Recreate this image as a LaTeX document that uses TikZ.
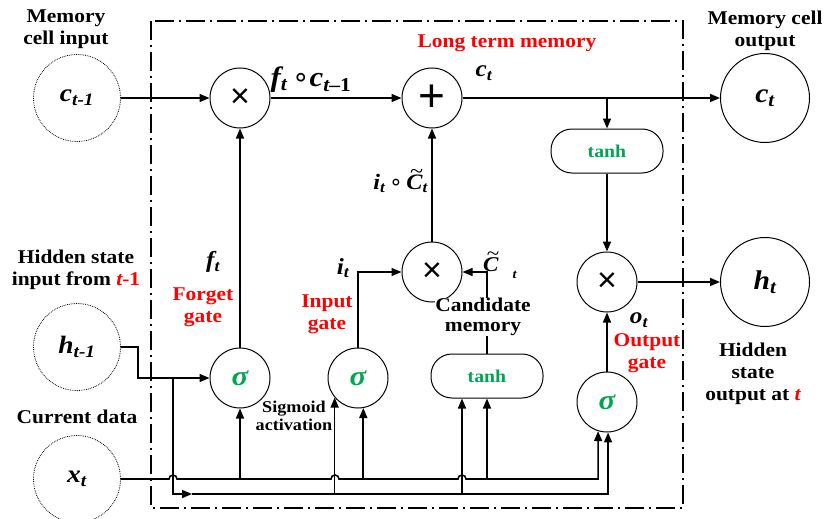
\documentclass[tikz,border=0pt]{standalone}
\usepackage{fontspec}
\setmainfont{Liberation Serif}[FakeStretch=1.1]
\newfontfamily\symfont{Liberation Sans}
\newfontfamily\dvfont{DejaVu Sans}
\usetikzlibrary{arrows.meta,calc}
\definecolor{lred}{RGB}{255,0,0}
\definecolor{lgreen}{RGB}{0,166,81}
\newcommand\bi[1]{{\bfseries\itshape #1}}
\newcommand\vsub[2]{\bi{#1}\textsubscript{\bi{#2}}}
\newcommand\ringop{{\dvfont\mdseries\upshape ∘}}
\newcommand\Ctil{\ooalign{\bi{C}\cr\hidewidth\hspace{0.2em}\raisebox{0.5em}{\mdseries\upshape\symbol{126}}\hidewidth\cr}}
\begin{document}
\begin{tikzpicture}[x=1pt,y=-1pt,
  conn/.style={line width=1.6pt},
  arr/.style={conn,-{Triangle[length=10pt,width=8pt]}},
  op/.style={circle,draw,line width=1pt,minimum size=60pt,inner sep=0pt,font=\symfont\fontsize{34}{34}\selectfont},
  inp/.style={circle,draw,densely dotted,line width=0.8pt,minimum size=87pt,inner sep=0pt,font=\fontsize{25}{25}\selectfont},
  outp/.style={circle,draw,line width=1pt,minimum size=89pt,inner sep=0pt,font=\fontsize{27}{27}\selectfont},
  tbox/.style={draw,line width=1pt,rounded corners=21pt,minimum width=112pt,minimum height=44pt,text=lgreen,font=\fontsize{18}{20}\selectfont\bfseries},
  sig/.style={op,text=lgreen,font=\fontsize{28}{28}\selectfont\bfseries\itshape},
  lbl/.style={font=\fontsize{19.5}{22}\selectfont\bfseries,align=center,inner sep=0pt},
  rlbl/.style={lbl,text=lred},
  mlbl/.style={inner sep=0pt,font=\fontsize{23}{23}\selectfont},
  ]
\useasboundingbox (0,0) rectangle (825,519);
\draw[line width=1.5pt,dash pattern=on 19pt off 5pt on 2pt off 5pt] (151,21) rectangle (683,508);

% nodes
\node[inp] (cin) at (77,98) {\vsub{c}{t-1}};
\node[inp] (hin) at (77,347) {\vsub{h}{t-1}};
\node[inp] (xin) at (77,479) {\vsub{x}{t}};
\node[op] (fmul) at (240,98) {×};
\node[op,font=\symfont\fontsize{46}{46}\selectfont] (plus) at (432,98) {+};
\node[outp] (cout) at (765,98) {\vsub{c}{t}};
\node[tbox] (tanh1) at (607,151) {tanh};
\node[op] (omul) at (607,282) {×};
\node[outp] (hout) at (765,282) {\vsub{h}{t}};
\node[op] (imul) at (432,272) {×};
\node[sig] (fsig) at (240,378) {σ};
\node[sig] (isig) at (358,378) {σ};
\node[tbox] (tanh2) at (487,376) {tanh};
\node[sig] (osig) at (607,402) {σ};

% top row
\draw[arr] (cin) -- (fmul);
\draw[arr] (fmul) -- (plus);
\draw[arr] (plus) -- (cout);
\coordinate (cbr) at (tanh1.north |- plus.east);
\draw[arr] (cbr) -- (tanh1.north);
\draw[arr] (tanh1.south) -- (omul.north);
\draw[arr] (omul) -- (hout);
\draw[arr] (osig) -- (omul);
\draw[arr] (fsig) -- (fmul);
\draw[arr] (isig.north) |- (imul.west);
\draw[arr] (tanh2.north) |- (imul.east);
\draw[arr] (imul) -- (plus);

% hidden state input
\draw[arr] (hin.east) -- ++(17,0) |- (fsig.west);
\coordinate (hb) at (173,378);
\coordinate (lowA) at (192,494);
\draw[arr] (hb) |- (lowA);
\draw[arr] (lowA) -| (osig.272);
\draw[arr] (isig.220 |- lowA) -- (isig.220);
\coordinate (t2l) at ($(tanh2.south)+(-25,0)$);
\draw[arr] (t2l |- lowA) -- (t2l);

% current data line with hops
\draw[arr] (xin.east) -- (169,479) arc[start angle=180,end angle=360,radius=4]
  -- (331,479) arc[start angle=180,end angle=360,radius=4]
  -- (458,479) arc[start angle=180,end angle=360,radius=4]
  -| (osig.253);
\draw[arr] (fsig.south |- xin.east) -- (fsig.south);
\draw[arr] (isig.280 |- xin.east) -- (isig.280);
\draw[arr] (tanh2.south |- xin.east) -- (tanh2.south);

% text labels
\node[lbl] (lmci) at (66,29) {Memory\\cell input};
\node[lbl] (lmco) at (765,31) {Memory cell\\output};
\node[lbl] (lhsi) at (76,270) {Hidden state\\input from \textcolor{lred}{\itshape t}\textcolor{lred}{-1}};
\node[lbl] (lcd) at (77,417) {Current data};
\node[rlbl] (lfg) at (203,307) {Forget\\gate};
\node[rlbl] (lig) at (327,314) {Input\\gate};
\node[rlbl] (log) at (647,353) {Output\\gate};
\node[rlbl] (lltm) at (507,43) {Long term memory};
\node[lbl,font=\fontsize{16.5}{18.5}\selectfont\bfseries] (lsa) at (294,416) {Sigmoid\\activation};
\node[lbl,fill=white,font=\fontsize{19.5}{20.5}\selectfont\bfseries] (lcm) at (483,317) {Candidate\\memory};
\node[lbl] (lhso) at (753,374) {Hidden\\state\\output at \textcolor{lred}{\itshape t}};

% math labels
\node[mlbl,font=\fontsize{28}{28}\selectfont] (lfc) at (311,80) {\bi{f}\textsubscript{\bi{t}}\,\ringop\bi{c}\textsubscript{\bi{t}\bfseries –1}};
\node[mlbl] (lct) at (484,73) {\vsub{c}{t}};
\node[mlbl] (lft) at (213,262) {\vsub{f}{t}};
\node[mlbl] (lit) at (343,268) {\vsub{i}{t}};
\node[mlbl] (lot) at (639,320) {\vsub{o}{t}};
\node[mlbl,font=\fontsize{22}{22}\selectfont,anchor=east] (licc) at (428,183) {\bi{i}\textsubscript{\bi{t}}\,\ringop\,\Ctil\textsubscript{\bi{t}}};
\node[mlbl,font=\fontsize{21}{21}\selectfont,anchor=west] (lcc) at (483,268) {\Ctil\hspace{14pt}\raisebox{-7pt}{\fontsize{13}{13}\selectfont\bi{t}}};
\end{tikzpicture}
\end{document}
